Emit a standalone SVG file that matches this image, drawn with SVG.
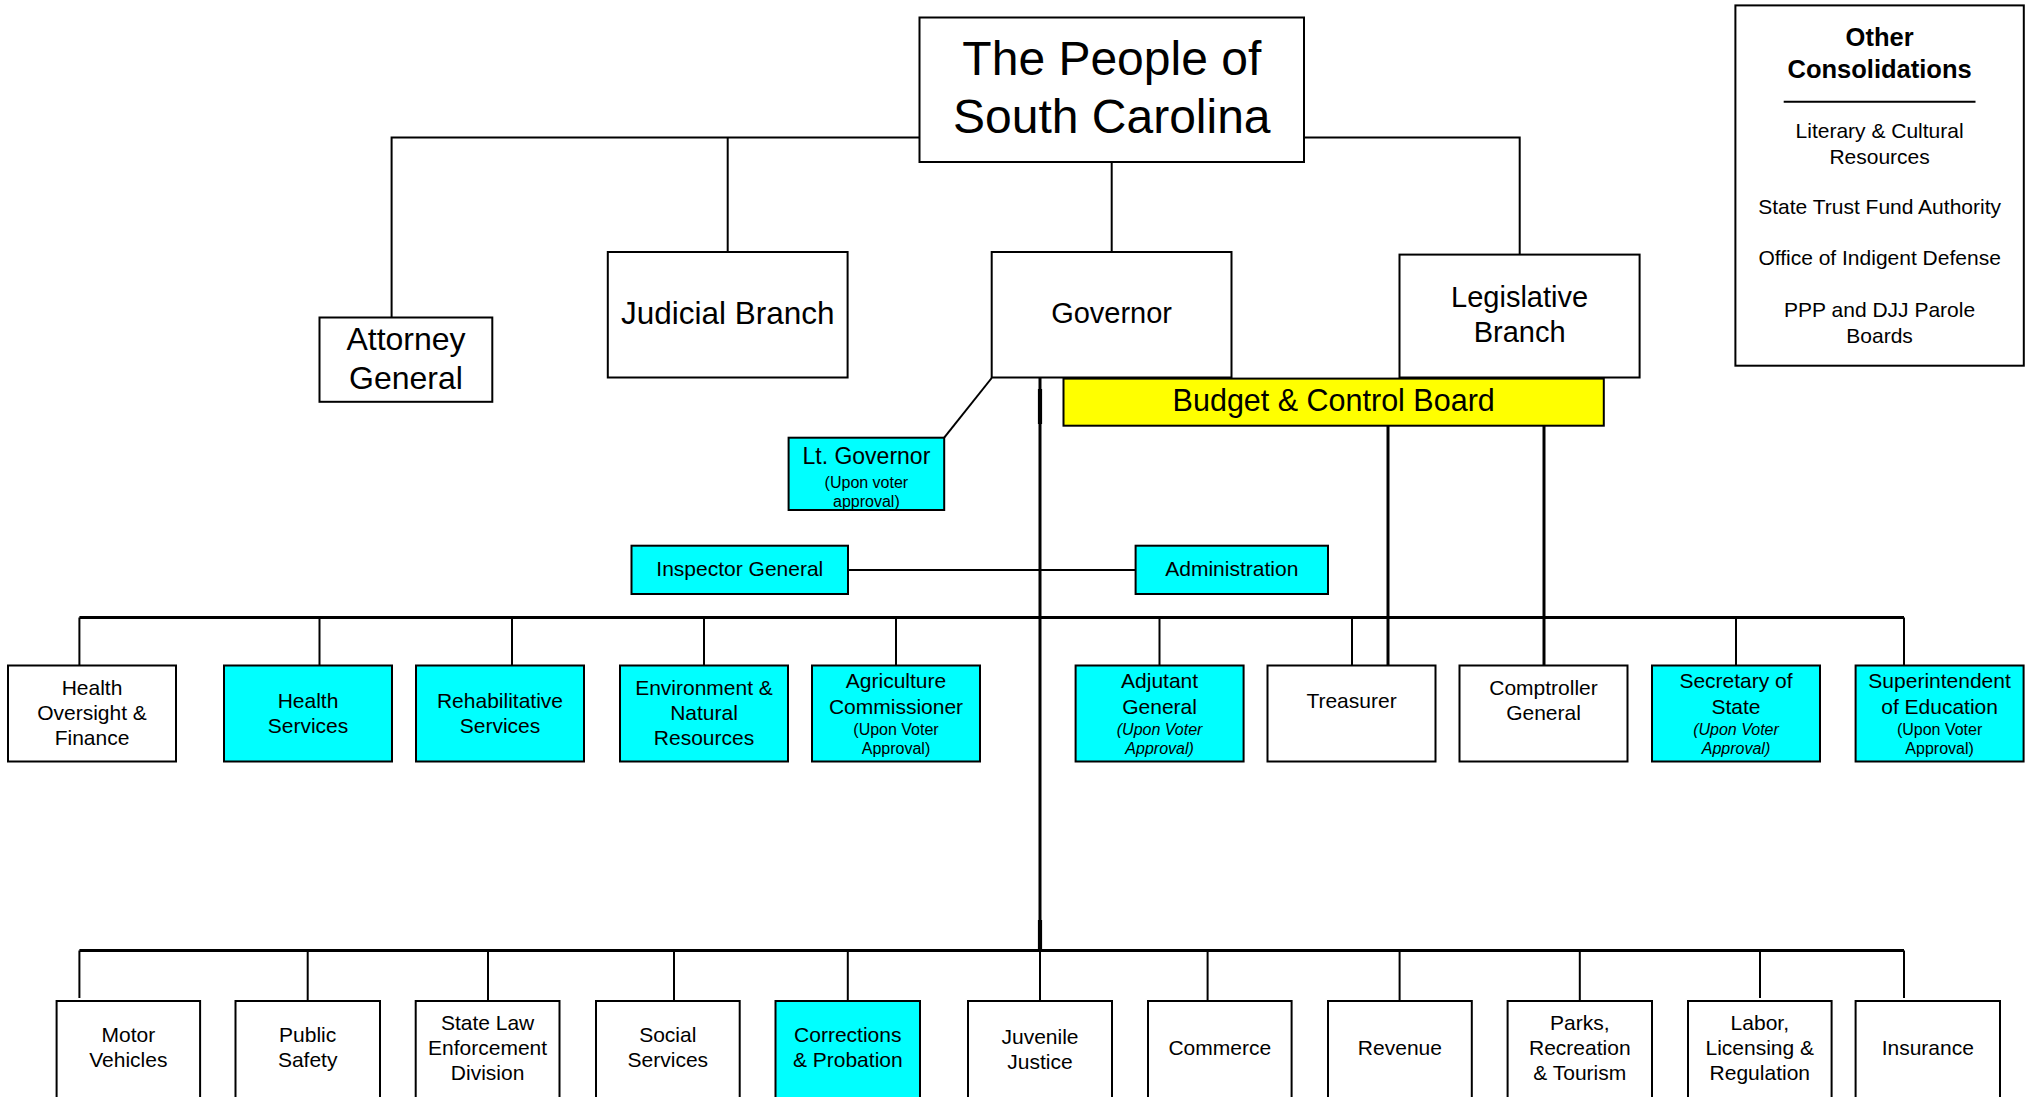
<svg xmlns="http://www.w3.org/2000/svg" width="2037" height="1097" viewBox="0 0 2037 1097">
<style>
.b{stroke:#000;stroke-width:2}
.w{fill:#fff}.c{fill:#00ffff}.y{fill:#ffff00}
text{font-family:"Liberation Sans",Arial,sans-serif;text-anchor:middle;fill:#000}
.n{font-size:21px}.s{font-size:16px}.i{font-style:italic}
#connectors line,#connectors polyline{stroke:#000;stroke-width:2;fill:none}
#connectors .bus{stroke-width:3}
#connectors .med{stroke-width:3}
#connectors .thk{stroke-width:4.2}
</style>
<rect width="2037" height="1097" fill="#fff"/>
<g id="connectors">
<polyline points="920,137.5 391.6,137.5 391.6,317.5"/>
<line x1="727.7" y1="137.5" x2="727.7" y2="252"/>
<line x1="1111.7" y1="162" x2="1111.7" y2="252"/>
<polyline points="1304,137.5 1519.7,137.5 1519.7,254.6"/>
<line x1="944.2" y1="437.7" x2="991.7" y2="378"/>
<line x1="848" y1="570" x2="1135.6" y2="570"/>
<line class="med" x1="1040" y1="377.5" x2="1040" y2="951"/>
<line class="thk" x1="1040" y1="389" x2="1040" y2="424"/>
<line class="thk" x1="1040" y1="920" x2="1040" y2="951"/>
<line class="bus" x1="79.4" y1="617.5" x2="1904" y2="617.5"/>
<line class="bus" x1="79.4" y1="950.5" x2="1904" y2="950.5"/>
<line class="med" x1="1388" y1="425.7" x2="1388" y2="665.5"/>
<line class="med" x1="1544" y1="425.7" x2="1544" y2="665.5"/>
<line x1="79.4" y1="617.5" x2="79.4" y2="665.5"/>
<line x1="319.5" y1="617.5" x2="319.5" y2="665.5"/>
<line x1="512" y1="617.5" x2="512" y2="665.5"/>
<line x1="704" y1="617.5" x2="704" y2="665.5"/>
<line x1="896" y1="617.5" x2="896" y2="665.5"/>
<line x1="1159.5" y1="617.5" x2="1159.5" y2="665.5"/>
<line x1="1352" y1="617.5" x2="1352" y2="665.5"/>
<line x1="1736" y1="617.5" x2="1736" y2="665.5"/>
<line x1="1904" y1="617.5" x2="1904" y2="665.5"/>
<line x1="79.4" y1="950.5" x2="79.4" y2="998"/>
<line x1="307.7" y1="950.5" x2="307.7" y2="1001"/>
<line x1="488" y1="950.5" x2="488" y2="1001"/>
<line x1="674" y1="950.5" x2="674" y2="1001"/>
<line x1="847.8" y1="950.5" x2="847.8" y2="1001"/>
<line x1="1040" y1="950.5" x2="1040" y2="1001"/>
<line x1="1207.6" y1="950.5" x2="1207.6" y2="1001"/>
<line x1="1399.6" y1="950.5" x2="1399.6" y2="1001"/>
<line x1="1579.8" y1="950.5" x2="1579.8" y2="1001"/>
<line x1="1760" y1="950.5" x2="1760" y2="998"/>
<line x1="1904" y1="950.5" x2="1904" y2="998"/>
</g>
<g id="people"><rect class="b w" x="919.5" y="17.5" width="384.5" height="144.5"/>
<text x="1111.8" y="75" font-size="48">The People of</text><text x="1111.8" y="132.7" font-size="48">South Carolina</text></g>
<g id="attorney-general"><rect class="b w" x="319.5" y="317.5" width="172.8" height="84.3"/>
<text x="406" y="350" font-size="32">Attorney</text><text x="406" y="389" font-size="32">General</text></g>
<g id="judicial"><rect class="b w" x="607.8" y="252" width="239.8" height="125.5"/>
<text x="727.7" y="324" font-size="31.5">Judicial Branch</text></g>
<g id="governor"><rect class="b w" x="991.7" y="252" width="239.8" height="125.5"/>
<text x="1111.6" y="323" font-size="29">Governor</text></g>
<g id="legislative"><rect class="b w" x="1399.5" y="254.6" width="240.1" height="122.9"/>
<text x="1519.6" y="307" font-size="29">Legislative</text><text x="1519.6" y="342" font-size="29">Branch</text></g>
<g id="budget"><rect class="b y" x="1063.5" y="378.6" width="540.3" height="47.1"/>
<text x="1333.7" y="411" font-size="30.5">Budget &amp; Control Board</text></g>
<g id="other"><rect class="b w" x="1735.4" y="5.4" width="288.4" height="360.3"/>
<text x="1879.6" y="46.4" font-size="25.5" font-weight="bold">Other</text>
<text x="1879.6" y="78" font-size="25.5" font-weight="bold">Consolidations</text>
<line x1="1783.7" y1="101.8" x2="1975.5" y2="101.8" stroke="#000" stroke-width="2"/>
<text class="n" x="1879.6" y="138">Literary &amp; Cultural</text><text class="n" x="1879.6" y="164">Resources</text>
<text class="n" x="1879.6" y="214">State Trust Fund Authority</text>
<text class="n" x="1879.6" y="265">Office of Indigent Defense</text>
<text class="n" x="1879.6" y="317">PPP and DJJ Parole</text><text class="n" x="1879.6" y="343">Boards</text></g>
<g id="lt-governor"><rect class="b c" x="788.6" y="437.7" width="155.6" height="72.3"/>
<text x="866.4" y="463.5" font-size="23">Lt. Governor</text><text class="s" x="866.4" y="488">(Upon voter</text><text class="s" x="866.4" y="506.7">approval)</text></g>
<g id="inspector-general"><rect class="b c" x="631.5" y="545.7" width="216.5" height="48.3"/>
<text class="n" x="739.8" y="576">Inspector General</text></g>
<g id="administration"><rect class="b c" x="1135.6" y="545.7" width="192.4" height="48.3"/>
<text class="n" x="1231.8" y="576">Administration</text></g>
<g id="health-oversight"><rect class="b w" x="8" y="665.5" width="168" height="96"/>
<text class="n" x="92" y="694.5">Health</text><text class="n" x="92" y="719.5">Oversight &amp;</text><text class="n" x="92" y="745">Finance</text></g>
<g id="health-services"><rect class="b c" x="224" y="665.5" width="168" height="96"/>
<text class="n" x="308" y="707.5">Health</text><text class="n" x="308" y="732.5">Services</text></g>
<g id="rehabilitative"><rect class="b c" x="416" y="665.5" width="168" height="96"/>
<text class="n" x="500" y="707.5">Rehabilitative</text><text class="n" x="500" y="732.5">Services</text></g>
<g id="environment"><rect class="b c" x="620" y="665.5" width="168" height="96"/>
<text class="n" x="704" y="694.5">Environment &amp;</text><text class="n" x="704" y="719.5">Natural</text><text class="n" x="704" y="745">Resources</text></g>
<g id="agriculture"><rect class="b c" x="812" y="665.5" width="168" height="96"/>
<text class="n" x="896" y="688">Agriculture</text><text class="n" x="896" y="713.5">Commissioner</text><text class="s" x="896" y="735">(Upon Voter</text><text class="s" x="896" y="754">Approval)</text></g>
<g id="adjutant"><rect class="b c" x="1075.6" y="665.5" width="168" height="96"/>
<text class="n" x="1159.6" y="688">Adjutant</text><text class="n" x="1159.6" y="713.5">General</text><text class="s i" x="1159.6" y="735">(Upon Voter</text><text class="s i" x="1159.6" y="754">Approval)</text></g>
<g id="treasurer"><rect class="b w" x="1267.5" y="665.5" width="168" height="96"/>
<text class="n" x="1351.5" y="707.5">Treasurer</text></g>
<g id="comptroller"><rect class="b w" x="1459.5" y="665.5" width="168" height="96"/>
<text class="n" x="1543.5" y="694.5">Comptroller</text><text class="n" x="1543.5" y="719.5">General</text></g>
<g id="secretary"><rect class="b c" x="1652" y="665.5" width="168" height="96"/>
<text class="n" x="1736" y="688">Secretary of</text><text class="n" x="1736" y="713.5">State</text><text class="s i" x="1736" y="735">(Upon Voter</text><text class="s i" x="1736" y="754">Approval)</text></g>
<g id="superintendent"><rect class="b c" x="1855.6" y="665.5" width="168" height="96"/>
<text class="n" x="1939.6" y="688">Superintendent</text><text class="n" x="1939.6" y="713.5">of Education</text><text class="s" x="1939.6" y="735">(Upon Voter</text><text class="s" x="1939.6" y="754">Approval)</text></g>
<g id="motor-vehicles"><rect class="b w" x="56.6" y="1001" width="143.5" height="120"/>
<text class="n" x="128.3" y="1042">Motor</text><text class="n" x="128.3" y="1067">Vehicles</text></g>
<g id="public-safety"><rect class="b w" x="235.5" y="1001" width="144.5" height="120"/>
<text class="n" x="307.7" y="1042">Public</text><text class="n" x="307.7" y="1067">Safety</text></g>
<g id="sled"><rect class="b w" x="415.7" y="1001" width="143.8" height="120"/>
<text class="n" x="487.6" y="1029.5">State Law</text><text class="n" x="487.6" y="1054.5">Enforcement</text><text class="n" x="487.6" y="1080.3">Division</text></g>
<g id="social-services"><rect class="b w" x="596" y="1001" width="143.7" height="120"/>
<text class="n" x="667.8" y="1042">Social</text><text class="n" x="667.8" y="1067">Services</text></g>
<g id="corrections"><rect class="b c" x="775.5" y="1001" width="144.5" height="120"/>
<text class="n" x="847.8" y="1042">Corrections</text><text class="n" x="847.8" y="1067">&amp; Probation</text></g>
<g id="juvenile"><rect class="b w" x="968" y="1001" width="144" height="120"/>
<text class="n" x="1040" y="1043.5">Juvenile</text><text class="n" x="1040" y="1068.5">Justice</text></g>
<g id="commerce"><rect class="b w" x="1148" y="1001" width="143.6" height="120"/>
<text class="n" x="1219.8" y="1054.5">Commerce</text></g>
<g id="revenue"><rect class="b w" x="1328" y="1001" width="143.8" height="120"/>
<text class="n" x="1399.9" y="1054.5">Revenue</text></g>
<g id="parks"><rect class="b w" x="1507.6" y="1001" width="144.4" height="120"/>
<text class="n" x="1579.8" y="1029.5">Parks,</text><text class="n" x="1579.8" y="1054.5">Recreation</text><text class="n" x="1579.8" y="1080.3">&amp; Tourism</text></g>
<g id="labor"><rect class="b w" x="1688" y="1001" width="143.6" height="120"/>
<text class="n" x="1759.8" y="1029.5">Labor,</text><text class="n" x="1759.8" y="1054.5">Licensing &amp;</text><text class="n" x="1759.8" y="1080.3">Regulation</text></g>
<g id="insurance"><rect class="b w" x="1855.6" y="1001" width="144.4" height="120"/>
<text class="n" x="1927.8" y="1054.5">Insurance</text></g>
</svg>
